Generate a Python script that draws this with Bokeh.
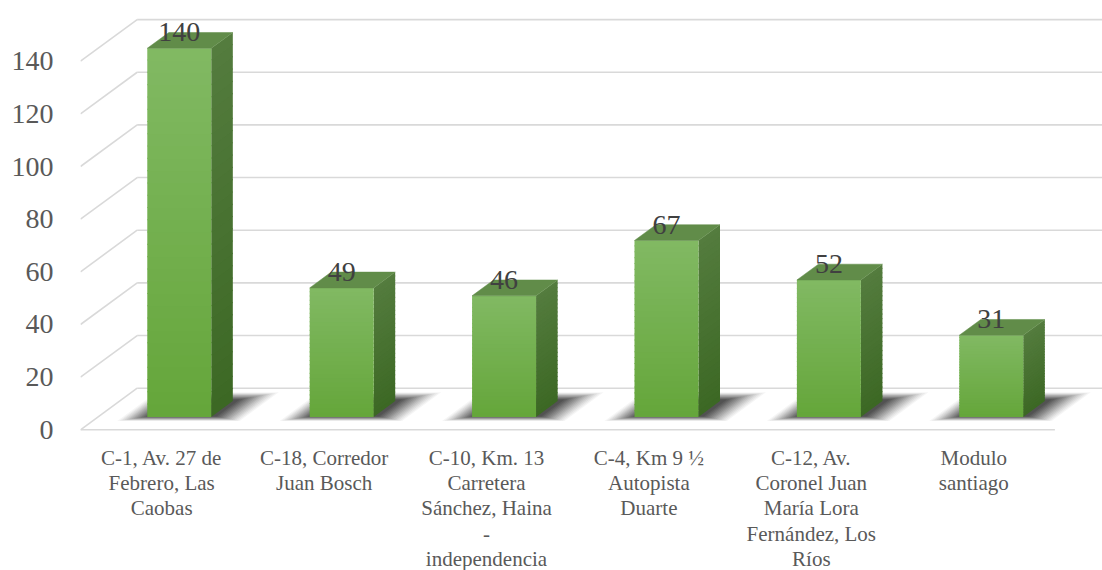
from bokeh.plotting import figure
from bokeh.models import FixedTicker, Range1d
from bokeh.core.properties import value
from bokeh.embed import file_html
from bokeh.resources import INLINE

# ---- data ----
categories = [
    "C-1, Av. 27 de\nFebrero, Las\nCaobas",
    "C-18, Corredor\nJuan Bosch",
    "C-10, Km. 13\nCarretera\nSánchez, Haina\n-\nindependencia",
    "C-4, Km 9 ½\nAutopista\nDuarte",
    "C-12, Av.\nCoronel Juan\nMaría Lora\nFernández, Los\nRíos",
    "Modulo\nsantiago",
]
values = [140, 49, 46, 67, 52, 31]
y_ticks = [0, 20, 40, 60, 80, 100, 120, 140]

# ---- 3D projection styling ----
n = len(values)
DX, DY = 0.349, 15.8        # depth offset (x units, value units)
F1, F2 = 0.31, 0.69         # bar front / back depth fraction
HW = 0.197                  # bar half width
centers = [i + 0.5 for i in range(n)]


def proj(x, v, d):
    return x + d * DX, v + d * DY


def lerp(c1, c2, t):
    return "#%02x%02x%02x" % tuple(int(round(a + (b - a) * t)) for a, b in zip(c1, c2))


p = figure(width=1102, height=570, x_range=Range1d(0, 6.293), y_range=Range1d(-53.44, 163.05),
           output_backend="svg", toolbar_location=None, x_axis_location=None,
           min_border_left=80, min_border_right=0, min_border_top=0, min_border_bottom=0)
p.outline_line_color = None
p.xgrid.visible = False
p.ygrid.visible = False
p.background_fill_color = "white"
p.border_fill_color = "white"

# ---- gridlines (back wall + side diagonals + floor front) ----
gx, gy = [], []
for t in y_ticks:
    x0, y0 = proj(0, t, 1)
    x1, y1 = proj(n, t, 1)
    gx.append([x0, x1]); gy.append([y0, y1])
    gx.append([0, x0]); gy.append([t, y0])
gx.append([0, n]); gy.append([0, 0])
p.multi_line(gx, gy, line_color="#d9d9d9", line_width=1.6)

# ---- soft shadows on the floor ----
NL = 14
for k in range(NL):
    t = k / (NL - 1)
    ex_l = 0.15 - 0.15 * t
    ex_r = 0.21 - 0.18 * t
    d0 = 0.21 + 0.11 * t
    d1 = 0.90 - 0.17 * t
    sx, sy = [], []
    for c in centers:
        xl, xr = c - HW - ex_l, c + HW + ex_r
        pts = [proj(xl, 0, d0), proj(xr, 0, d0), proj(xr, 0, d1), proj(xl, 0, d1)]
        sx.append([q[0] for q in pts]); sy.append([q[1] for q in pts])
    p.patches(sx, sy, fill_color="black", fill_alpha=0.11 * (0.35 + 0.65 * t), line_color=None)

# ---- bars ----
NB = 30
front_top, front_bot = (129, 185, 99), (101, 166, 58)
side_top, side_bot = (84, 124, 62), (60, 104, 36)
top_col = "#618c49"

fl, fr, fb, ft, fc = [], [], [], [], []
sxs, sys_, scs = [], [], []
for c, v in zip(centers, values):
    xl, xr = c - HW, c + HW
    for b in range(NB):
        v0 = v * b / NB
        v1 = min(v, v * (b + 1) / NB + 0.4)
        tt = (b + 0.5) / NB
        fl.append(xl + F1 * DX); fr.append(xr + F1 * DX)
        fb.append(v0 + F1 * DY); ft.append(v1 + F1 * DY)
        fc.append(lerp(front_bot, front_top, tt))
        pts = [proj(xr, v0, F1), proj(xr, v0, F2), proj(xr, v1, F2), proj(xr, v1, F1)]
        sxs.append([q[0] for q in pts]); sys_.append([q[1] for q in pts])
        scs.append(lerp(side_bot, side_top, tt))
p.patches(sxs, sys_, fill_color=scs, line_color=None)
p.quad(left=fl, right=fr, bottom=fb, top=ft, fill_color=fc, line_color=None)

tx, ty = [], []
for c, v in zip(centers, values):
    xl, xr = c - HW, c + HW
    pts = [proj(xl, v, F1), proj(xr, v, F1), proj(xr, v, F2), proj(xl, v, F2)]
    tx.append([q[0] for q in pts]); ty.append([q[1] for q in pts])
p.patches(tx, ty, fill_color=top_col, line_color=top_col, line_width=0.5)

# ---- data labels ----
p.text(x=[c + F1 * DX for c in centers], y=[v + F2 * DY for v in values],
       text=[str(v) for v in values], text_align="center", text_baseline="alphabetic",
       text_font=value("Liberation Serif"), text_font_size="28px", text_color="#404040")

# ---- category labels ----
p.text(x=centers, y=[-6.0] * n, text=categories, text_align="center", text_baseline="top",
       text_line_height=1.06, text_font=value("Liberation Serif"), text_font_size="21px",
       text_color="#595959")

# ---- y axis ----
ax = p.yaxis[0]
ax.ticker = FixedTicker(ticks=y_ticks)
ax.axis_line_color = None
ax.major_tick_line_color = None
ax.minor_tick_line_color = None
ax.major_tick_out = 0
ax.major_tick_in = 0
ax.major_label_standoff = 27
ax.major_label_text_font = "Liberation Serif"
ax.major_label_text_font_size = "28px"
ax.major_label_text_color = "#595959"

open("out.html", "w").write(file_html(p, INLINE))
